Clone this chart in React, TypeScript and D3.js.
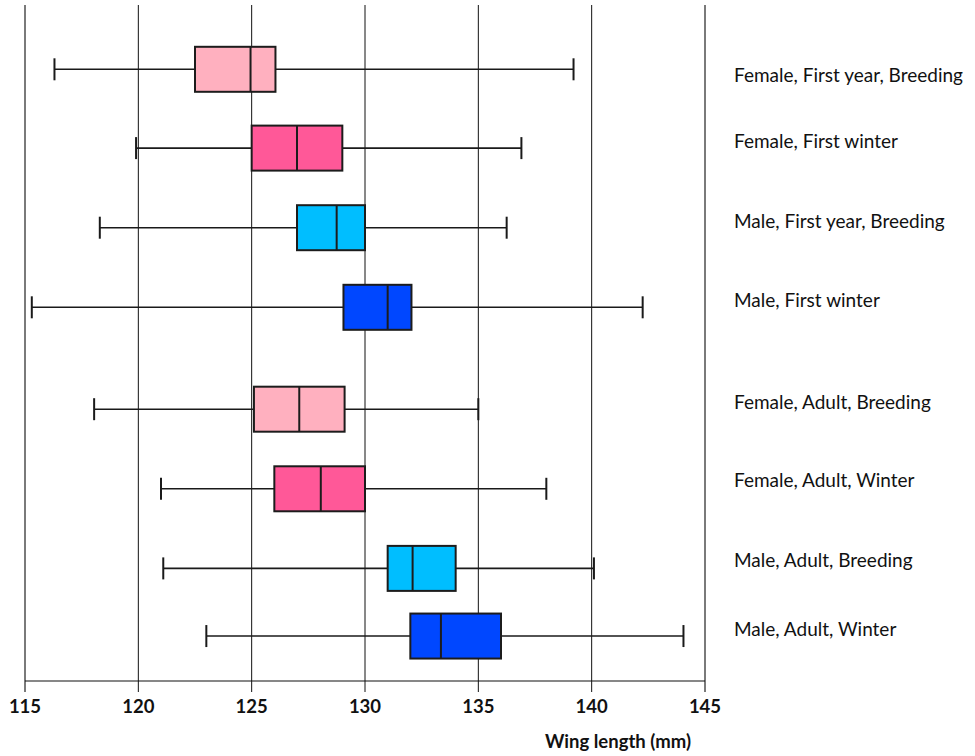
import React from "react";
import * as d3 from "d3";

const categories = [
  "Female, First year, Breeding",
  "Female, First winter",
  "Male, First year, Breeding",
  "Male, First winter",
  "Female, Adult, Breeding",
  "Female, Adult, Winter",
  "Male, Adult, Breeding",
  "Male, Adult, Winter",
];
const whiskerLow = [116.3, 119.9, 118.3, 115.3, 118.05, 121.0, 121.1, 123.0];
const q1 = [122.5, 125.0, 127.0, 129.05, 125.1, 126.0, 131.0, 132.0];
const medians = [124.95, 127.0, 128.75, 131.0, 127.1, 128.05, 132.1, 133.35];
const q3 = [126.05, 129.0, 130.0, 132.05, 129.1, 130.0, 134.0, 136.0];
const whiskerHigh = [139.2, 136.9, 136.25, 142.25, 135.0, 138.0, 140.1, 144.05];
const rowSlot = [0, 0.99, 1.99, 2.99, 4.27, 5.27, 6.27, 7.12];
const labelSlot = [0.08, 0.91, 1.91, 2.90, 4.18, 5.17, 6.17, 7.03];
const fills = ["#FFB0BF", "#FF5898", "#00BEFF", "#0047FF"];
const xTicks = [115, 120, 125, 130, 135, 140, 145];
const xTitle = "Wing length (mm)";

const W = 975;
const H = 756;
const left = 25;
const right = 705;
const top = 5;
const bottom = 681;

export default function App() {
  const x = d3.scaleLinear().domain([115, 145]).range([left, right]);
  const y = d3.scaleLinear().domain([0, 1]).range([69.3, 148.9]);
  const boxH = 45;
  const capH = 22;
  const font = "Lato, 'Open Sans', sans-serif";

  return (
    <svg
      width={W}
      height={H}
      style={{ position: "absolute", left: 0, top: 0, background: "#fff" }}
    >
      {xTicks.map((t, i) => {
        const edge = i === 0 || i === xTicks.length - 1;
        return (
          <line
            key={"g" + t}
            x1={x(t)}
            x2={x(t)}
            y1={top}
            y2={bottom + 11}
            stroke={edge ? "#7a7a7a" : "#111"}
            strokeWidth={edge ? 2 : 1}
          />
        );
      })}
      <line x1={left} x2={right} y1={bottom} y2={bottom} stroke="#111" strokeWidth={1.2} />

      {categories.map((c, i) => {
        const cy = y(rowSlot[i]);
        const fill = fills[i % 4];
        return (
          <g key={c}>
            <line x1={x(whiskerLow[i])} x2={x(q1[i])} y1={cy} y2={cy} stroke="#1a1a1a" strokeWidth={1.6} />
            <line x1={x(q3[i])} x2={x(whiskerHigh[i])} y1={cy} y2={cy} stroke="#1a1a1a" strokeWidth={1.6} />
            <line x1={x(whiskerLow[i])} x2={x(whiskerLow[i])} y1={cy - capH / 2} y2={cy + capH / 2} stroke="#1a1a1a" strokeWidth={2} />
            <line x1={x(whiskerHigh[i])} x2={x(whiskerHigh[i])} y1={cy - capH / 2} y2={cy + capH / 2} stroke="#1a1a1a" strokeWidth={2} />
            <rect
              x={x(q1[i])}
              y={cy - boxH / 2}
              width={x(q3[i]) - x(q1[i])}
              height={boxH}
              fill={fill}
              stroke="#1c1c1c"
              strokeWidth={2}
            />
            <line x1={x(medians[i])} x2={x(medians[i])} y1={cy - boxH / 2} y2={cy + boxH / 2} stroke="#1c1c1c" strokeWidth={2} />
            <text
              x={734}
              y={y(labelSlot[i])}
              dy="0.35em"
              fontFamily={font}
              fontSize={19}
              fill="#111"
            >
              {c}
            </text>
          </g>
        );
      })}

      {xTicks.map((t) => (
        <text
          key={"t" + t}
          x={x(t)}
          y={713}
          textAnchor="middle"
          fontFamily={font}
          fontWeight="bold"
          fontSize={18.5}
          fill="#111"
        >
          {t}
        </text>
      ))}
      <text
        x={618}
        y={748}
        textAnchor="middle"
        fontFamily={font}
        fontWeight="bold"
        fontSize={18.5}
        fill="#111"
      >
        {xTitle}
      </text>
    </svg>
  );
}
